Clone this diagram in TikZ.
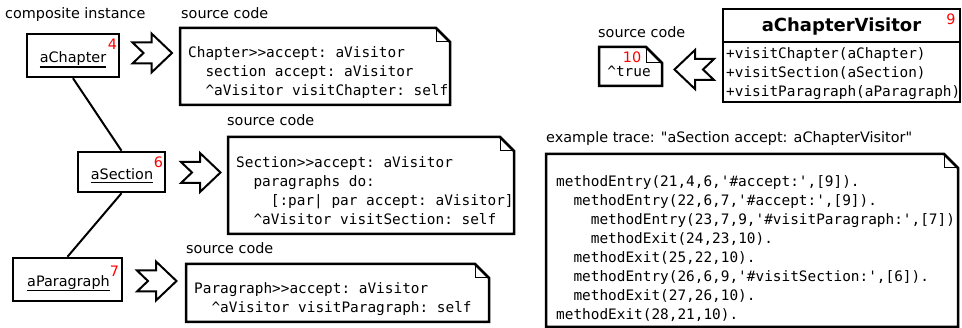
\documentclass[tikz,border=0pt]{standalone}
\usepackage{fontspec}
\setmainfont{DejaVu Sans}
\setmonofont{DejaVu Sans Mono}
\newfontfamily\dvsans{DejaVu Sans}
\newcommand\drawnote[5]{%
  \draw[notestyle] (#1,#2) -- (#3-#5,#2) -- (#3,#2+#5) -- (#3,#4) -- (#1,#4) -- cycle;
  \draw[foldstyle] (#3-#5,#2) -- (#3-#5,#2+#5) -- (#3,#2+#5);}
\tikzset{
  lbl/.style={font=\dvsans\fontsize{14.4}{17}\selectfont, inner sep=0, anchor=base west},
  code/.style={font=\ttfamily\fontsize{14.4}{19}\selectfont, inner sep=0, anchor=base west},
  num/.style={font=\dvsans\fontsize{14.4}{17}\selectfont, text=red, inner sep=0, anchor=base},
  obj/.style={draw, line width=2.5pt, inner sep=0},
  notestyle/.style={line width=2.5pt, line join=miter},
  foldstyle/.style={line width=1pt},
  conn/.style={line width=2pt},
  uline/.style={line width=1.3pt},
  blk/.style={draw, line width=2pt, line join=miter, fill=white},
  pics/blockarrow/.style={code={
    \draw[blk] (0,-10.5) -- (19,-10.5) -- (19,-19.5) -- (39.5,0) -- (19,19.5) -- (19,10.5) -- (0,10.5) -- (11,0) -- cycle;}}
}
\begin{document}
\begin{tikzpicture}[x=1pt,y=-1pt]
\useasboundingbox (0,0) rectangle (962,328);

% left labels
\node[lbl] (ci) at (5,19) {composite instance};
\node[lbl] (sc1) at (181,19) {source code};
\node[lbl] (sc2) at (227,126) {source code};
\node[lbl] (sc3) at (186,254) {source code};
\node[lbl] (sc4) at (598,38) {source code};
\node[lbl] (ex) at (546,143) {example trace: "aSection accept: aChapterVisitor"};

% object boxes
\node[obj, minimum width=92pt, minimum height=43pt] (chap) at (73,55.5) {};
\node[obj, minimum width=87pt, minimum height=40pt] (sec) at (121.5,172) {};
\node[obj, minimum width=109pt, minimum height=43pt] (par) at (67.5,279.5) {};

\node[lbl, anchor=base] (chapl) at (73,63) {aChapter};
\node[lbl, anchor=base] (secl) at (122,179.3) {aSection};
\node[lbl, anchor=base] (parl) at (68.5,286.5) {aParagraph};
\draw[uline] ([yshift=-4pt]chapl.base west) -- ([yshift=-4pt]chapl.base east);
\draw[uline] ([yshift=-3.5pt]secl.base west) -- ([yshift=-3.5pt]secl.base east);
\draw[uline] ([yshift=-4.3pt]parl.base west) -- ([yshift=-4.3pt]parl.base east);

\node[num] (n4) at (112.5,50) {4};
\node[num] (n6) at (158.5,168) {6};
\node[num] (n7) at (114.5,277) {7};

\draw[conn] (chap.south) -- (sec.north);
\draw[conn] (sec.south) -- (par.north);

% block arrows
\pic at (132.5,53) {blockarrow};
\pic at (181,172.5) {blockarrow};
\pic at (137,281) {blockarrow};
\pic[xscale=-1] at (714,69.5) {blockarrow};

% notes
\drawnote{180}{28}{450}{105}{14}
\drawnote{228}{137}{514}{234}{14}
\drawnote{186}{264}{489}{322}{14}
\drawnote{599}{47}{662}{86}{16}
\drawnote{546}{154}{958}{327}{14}

\foreach \t [count=\i] in {{Chapter>>accept: aVisitor},
  {\phantom{xx}section accept: aVisitor},
  {\phantom{xx}\textasciicircum aVisitor visitChapter: self}}
  \node[code] (ch\i) at (188,{58+19*(\i-1)}) {\t};

\foreach \t [count=\i] in {{Section>>accept: aVisitor},
  {\phantom{xx}paragraphs do:},
  {\phantom{xxxx}[:par| par accept: aVisitor]},
  {\phantom{xx}\textasciicircum aVisitor visitSection: self}}
  \node[code] (se\i) at (236,{168+19*(\i-1)}) {\t};

\foreach \t [count=\i] in {{Paragraph>>accept: aVisitor},
  {\phantom{xx}\textasciicircum aVisitor visitParagraph: self}}
  \node[code] (pa\i) at (194,{294+19*(\i-1)}) {\t};

\foreach \t [count=\i] in {{methodEntry(21,4,6,\textquotesingle\#accept:\textquotesingle,[9]).},
  {\phantom{xx}methodEntry(22,6,7,\textquotesingle\#accept:\textquotesingle,[9]).},
  {\phantom{xxxx}methodEntry(23,7,9,\textquotesingle\#visitParagraph:\textquotesingle,[7])},
  {\phantom{xxxx}methodExit(24,23,10).},
  {\phantom{xx}methodExit(25,22,10).},
  {\phantom{xx}methodEntry(26,6,9,\textquotesingle\#visitSection:\textquotesingle,[6]).},
  {\phantom{xx}methodExit(27,26,10).},
  {methodExit(28,21,10).}}
  \node[code] (tr\i) at (556,{187+19*(\i-1)}) {\t};

% small note content
\node[num] (n10) at (632,63) {10};
\node[code, anchor=base] (tru) at (629,77) {\textasciicircum true};

% visitor class
\node[draw, line width=2.5pt, minimum width=237pt, minimum height=93pt, inner sep=0] (vbox) at (841.5,55.5) {};
\draw[line width=2.5pt] (vbox.west |- 0,42) -- (vbox.east |- 0,42);
\node[font=\dvsans\bfseries\fontsize{18}{21}\selectfont, inner sep=0, anchor=base] (vt) at (841.5,32) {aChapterVisitor};
\node[num] (n9) at (951,25) {9};
\foreach \t [count=\i] in {{+visitChapter(aChapter)},{+visitSection(aSection)},{+visitParagraph(aParagraph)}}
  \node[code] (vm\i) at (726,{59+19*(\i-1)}) {\t};
\end{tikzpicture}
\end{document}
